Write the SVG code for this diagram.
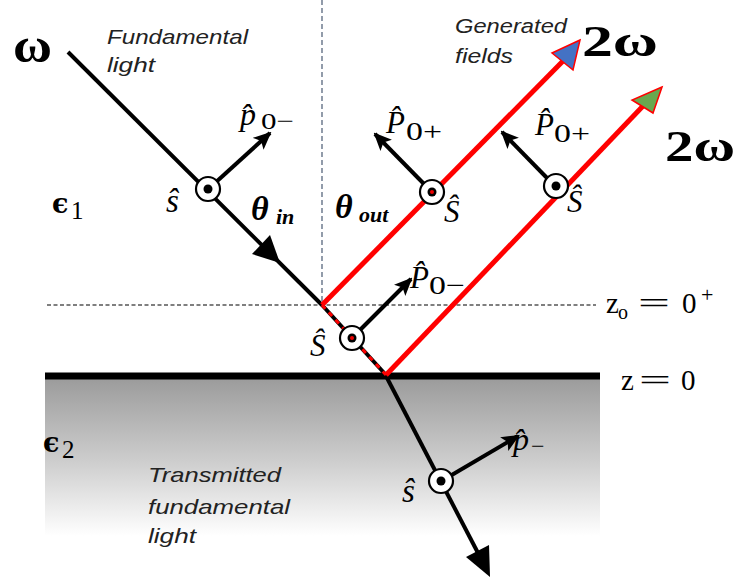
<svg xmlns="http://www.w3.org/2000/svg" width="736" height="583" viewBox="0 0 736 583">
<style>
.blk{stroke:#000;stroke-width:4;fill:none}
.red{stroke:#ff0000;stroke-width:5;fill:none}
.note{font-family:"Liberation Sans",Arial,sans-serif;font-style:italic;fill:#222}
.m{font-family:"Liberation Serif","Times New Roman",serif;font-style:italic;fill:#000}
.sub{font-family:"Liberation Serif","Times New Roman",serif;fill:#000}
.bm{font-family:"Liberation Serif","Times New Roman",serif;font-weight:bold;fill:#000}
.eps{font-family:"DejaVu Serif",serif;font-weight:bold;fill:#000}
.ring{fill:#fff;stroke:#000;stroke-width:2.2}
</style>
<defs>
<linearGradient id="g2" x1="0" y1="0" x2="0" y2="1">
<stop offset="0" stop-color="#9a9a9a"/>
<stop offset="0.55" stop-color="#cfcfcf"/>
<stop offset="1" stop-color="#ffffff"/>
</linearGradient>
<marker id="ah" markerUnits="userSpaceOnUse" markerWidth="18" markerHeight="16" refX="16" refY="8" orient="auto">
<path d="M0,0 L18,8 L0,16 L4,8 Z" fill="#000"/>
</marker>
</defs>

<g id="medium2">
<rect x="45" y="376" width="555" height="160" fill="url(#g2)"/>
</g>

<g id="guides">
<line x1="322" y1="0" x2="322" y2="305" stroke="#4a5a72" stroke-width="1.2" stroke-dasharray="5,3"/>
<line x1="47" y1="305" x2="596" y2="305" stroke="#000" stroke-width="1.2" stroke-dasharray="4,2.5"/>
<line x1="45" y1="376" x2="600" y2="376" stroke="#000" stroke-width="7"/>
</g>

<g id="connectors">
<line class="blk" x1="68" y1="52" x2="322" y2="305"/>
<polygon points="280,263 252,254 270,235" fill="#000"/>
<line x1="322" y1="305" x2="386" y2="375" stroke="#000" stroke-width="4"/>
<line x1="322" y1="305" x2="386" y2="375" stroke="#ff0000" stroke-width="3" stroke-dasharray="5,5"/>
<line class="blk" x1="386" y1="376" x2="478" y2="553"/>
<polygon points="490,577 466,557 489,545" fill="#000"/>
<line class="red" x1="322" y1="305" x2="563" y2="61"/>
<polygon points="580,40 552,53 573,70" fill="#4472c4" stroke="#ff0000" stroke-width="1.5"/>
<line class="red" x1="386" y1="375" x2="643" y2="106"/>
<polygon points="662,87 632,100 653,113" fill="#6aa84f" stroke="#ff0000" stroke-width="1.5"/>
<line class="blk" x1="215" y1="183" x2="270" y2="133" marker-end="url(#ah)"/>
<line class="blk" x1="425" y1="185" x2="375" y2="134" marker-end="url(#ah)"/>
<line class="blk" x1="548" y1="179" x2="502" y2="132" marker-end="url(#ah)"/>
<line class="blk" x1="359" y1="331" x2="411" y2="279" marker-end="url(#ah)"/>
<line class="blk" x1="450" y1="476" x2="518" y2="436" marker-end="url(#ah)"/>
</g>

<g id="s-incident"><circle class="ring" cx="208" cy="189" r="12"/><circle cx="208" cy="189" r="4.5" fill="#000"/></g>
<g id="s-surface"><circle class="ring" cx="352" cy="338" r="12"/><circle cx="352" cy="338" r="4.5" fill="#000"/><circle cx="352" cy="338" r="2" fill="#e00"/></g>
<g id="s-gen1"><circle class="ring" cx="432" cy="192" r="12"/><circle cx="432" cy="192" r="4.5" fill="#000"/><circle cx="432" cy="192" r="2" fill="#e00"/></g>
<g id="s-gen2"><circle class="ring" cx="556" cy="186" r="12"/><circle cx="556" cy="186" r="4.5" fill="#000"/></g>
<g id="s-trans"><circle class="ring" cx="441" cy="481" r="12"/><circle cx="441" cy="481" r="4.5" fill="#000"/></g>

<g id="labels">
<text class="bm" x="13" y="62" style="font-size:48px" textLength="39" lengthAdjust="spacingAndGlyphs">ω</text>
<text class="note" x="107" y="44" style="font-size:21px" textLength="141" lengthAdjust="spacingAndGlyphs">Fundamental</text>
<text class="note" x="107" y="72" style="font-size:21px" textLength="48" lengthAdjust="spacingAndGlyphs">light</text>
<text class="note" x="455" y="33" style="font-size:20px" textLength="112" lengthAdjust="spacingAndGlyphs">Generated</text>
<text class="note" x="455" y="63" style="font-size:20px" textLength="58" lengthAdjust="spacingAndGlyphs">fields</text>
<text class="bm" x="582" y="56" style="font-size:44px" textLength="76" lengthAdjust="spacingAndGlyphs">2ω</text>
<text class="bm" x="665" y="161" style="font-size:44px" textLength="70" lengthAdjust="spacingAndGlyphs">2ω</text>

<text class="eps" x="52" y="213" style="font-size:27px">ϵ</text><text class="sub" x="71" y="219" style="font-size:25px">1</text>
<text class="bm" x="251" y="220" style="font-size:34px;font-style:italic">θ</text><text class="bm" x="276" y="224" style="font-size:22px;font-style:italic">in</text>
<text class="bm" x="335" y="218" style="font-size:34px;font-style:italic">θ</text><text class="bm" x="359" y="222" style="font-size:22px;font-style:italic">out</text>

<text class="m" x="166" y="212" style="font-size:33px">ŝ</text>
<text class="m" x="240" y="125" style="font-size:32px">p̂</text><text class="sub" x="261" y="129" style="font-size:24px" textLength="33" lengthAdjust="spacingAndGlyphs">0−</text>
<text class="m" x="386" y="133" style="font-size:31px">P̂</text><text class="sub" x="406" y="140" style="font-size:26px" textLength="36" lengthAdjust="spacingAndGlyphs">0+</text>
<text class="m" x="535" y="135" style="font-size:31px">P̂</text><text class="sub" x="554" y="142" style="font-size:26px" textLength="36" lengthAdjust="spacingAndGlyphs">0+</text>
<text class="m" x="444" y="222" style="font-size:31px">Ŝ</text>
<text class="m" x="567" y="212" style="font-size:31px">Ŝ</text>
<text class="m" x="410" y="288" style="font-size:31px">P̂</text><text class="sub" x="429" y="294" style="font-size:26px" textLength="36" lengthAdjust="spacingAndGlyphs">0−</text>
<text class="m" x="310" y="356" style="font-size:31px">Ŝ</text>

<text class="sub" x="606" y="313" style="font-size:29px">z</text><text class="sub" x="618" y="319" style="font-size:20px">o</text>
<text class="sub" x="638" y="313" style="font-size:29px" textLength="32" lengthAdjust="spacingAndGlyphs">=</text>
<text class="sub" x="682" y="313" style="font-size:29px">0</text><text class="sub" x="701" y="302" style="font-size:22px">+</text>
<text class="sub" x="621" y="390" style="font-size:29px">z</text>
<text class="sub" x="639" y="390" style="font-size:29px" textLength="32" lengthAdjust="spacingAndGlyphs">=</text>
<text class="sub" x="681" y="390" style="font-size:29px">0</text>

<text class="eps" x="43" y="452" style="font-size:27px">ϵ</text><text class="sub" x="62" y="458" style="font-size:25px">2</text>
<text class="m" x="513" y="450" style="font-size:32px">p̂</text><text class="sub" x="531" y="454" style="font-size:24px">−</text>
<text class="m" x="402" y="502" style="font-size:33px">ŝ</text>

<text class="note" x="148" y="482" style="font-size:21px" textLength="133" lengthAdjust="spacingAndGlyphs">Transmitted</text>
<text class="note" x="148" y="514" style="font-size:21px" textLength="142" lengthAdjust="spacingAndGlyphs">fundamental</text>
<text class="note" x="148" y="543" style="font-size:21px" textLength="48" lengthAdjust="spacingAndGlyphs">light</text>
</g>
</svg>
